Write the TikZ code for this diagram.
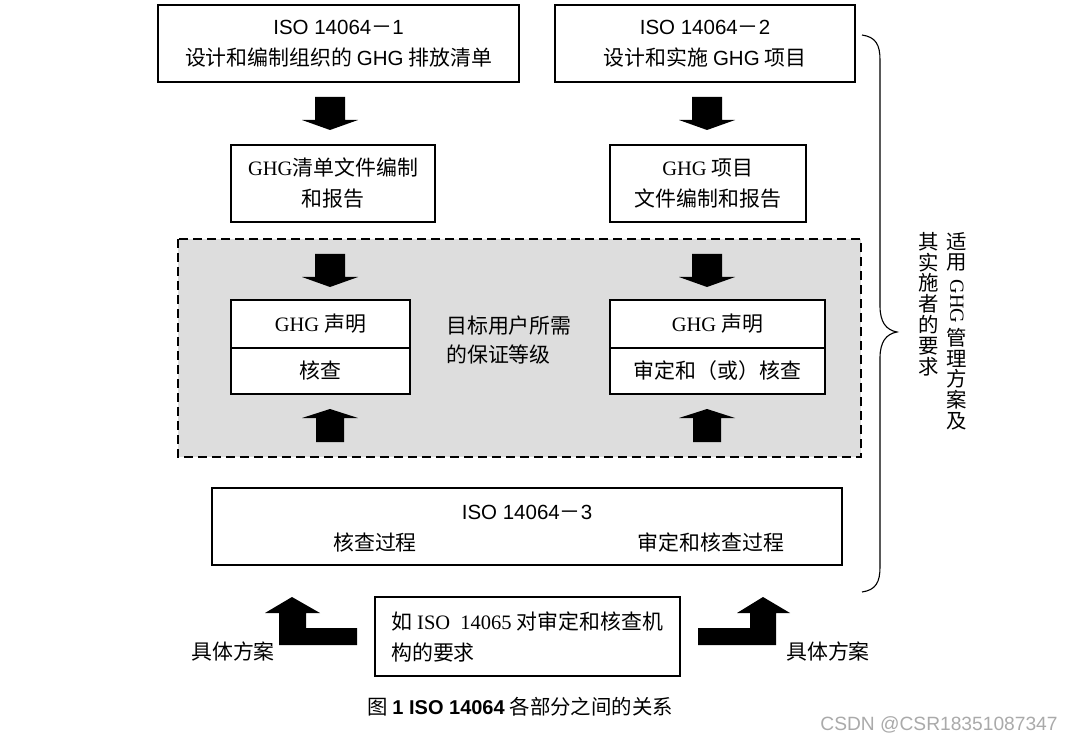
\documentclass[tikz,border=0pt]{standalone}
\usepackage{fontspec}
\usepackage{graphicx}
\setmainfont{Liberation Serif}
\newfontfamily\sans{Liberation Sans}
\newfontfamily\cjk[Scale=1.02]{Noto Sans CJK SC}
\newcommand\zh[1]{{\cjk #1}}
\definecolor{regiongray}{RGB}{221,221,221}
\definecolor{wmgray}{RGB}{170,170,170}
\tikzset{
  box/.style={draw=black, line width=1.2pt, fill=white, inner sep=0pt, align=center,
    font=\fontsize{20.5}{31}\selectfont},
  lbl/.style={inner sep=0pt, font=\fontsize{20.5}{29}\selectfont},
  fatdown/.pic={\fill[black] (-15,0) -- (15,0) -- (15,23) -- (28,23) -- (0,33) -- (-28,23) -- (-15,23) -- cycle;},
  fatup/.pic={\fill[black] (0,0) -- (28,9) -- (14,9) -- (14,33) -- (-14,33) -- (-14,9) -- (-28,9) -- cycle;}
}
\begin{document}
\begin{tikzpicture}[x=1pt,y=-1pt]
\useasboundingbox[fill=white] (0,0) rectangle (1073,743);

% top boxes
\node[box, minimum width=361, minimum height=77] (iso1) at (338.5,43.5)
  {{\sans ISO 14064}\zh{－}{\sans 1}\\\zh{设计和编制组织的 }{\sans GHG}\zh{ 排放清单}};
\node[box, minimum width=300, minimum height=77] (iso2) at (705,43.5)
  {{\sans ISO 14064}\zh{－}{\sans 2}\\\zh{设计和实施 }{\sans GHG}\zh{ 项目}};

\pic at (330,97) {fatdown};
\pic at (707,97) {fatdown};

% documentation boxes
\node[box, minimum width=204, minimum height=77] (doc1) at (333,183.5)
  {GHG\zh{清单文件编制}\\\zh{和报告}};
\node[box, minimum width=196, minimum height=77] (doc2) at (708,183.5)
  {GHG \zh{项目}\\\zh{文件编制和报告}};

% shaded region
\draw[line width=1.3pt, dash pattern=on 9pt off 5pt, fill=regiongray] (178,239) rectangle (861,457);
\coordinate (region) at (519.5,348);

\pic at (330,254) {fatdown};
\pic at (707,254) {fatdown};

\node[box, minimum width=179, minimum height=48] (st1) at (320.5,324) {GHG \zh{声明}};
\node[box, minimum width=179, minimum height=46] (vf1) at (320.5,371) {\zh{核查}};
\node[box, minimum width=215, minimum height=48] (st2) at (717.5,324) {GHG \zh{声明}};
\node[box, minimum width=215, minimum height=46] (vf2) at (717.5,371) {\zh{审定和（或）核查}};

\node[lbl, anchor=west, align=left] (assur) at (446,340.5) {\zh{目标用户所需}\\\zh{的保证等级}};

\pic at (330,409) {fatup};
\pic at (707,409) {fatup};

% ISO 14064-3
\node[box, minimum width=630, minimum height=77] (iso3) at (527,526.5) {};
\node[lbl] (iso3t) at (527,512) {{\sans ISO 14064}\zh{－}{\sans 3}};
\node[lbl] (vp) at (375,543) {\zh{核查过程}};
\node[lbl] (vvp) at (711,543) {\zh{审定和核查过程}};

% ISO 14065 box
\node[box, minimum width=305, minimum height=79] (iso65) at (527.5,636.5) {};
\node[lbl, anchor=west, align=left, font=\fontsize{20.5}{31}\selectfont] (iso65t) at (391,636.5)
  {\zh{如} ISO\ \ 14065 \zh{对审定和核查机}\\\zh{构的要求}};

% bent arrows
\fill[black] (357,628) -- (306,628) -- (306,613) -- (320,613) -- (292,597) -- (265,613) -- (279,613) -- (279,645) -- (357,645) -- cycle;
\fill[black] (698,628) -- (750,628) -- (750,613) -- (737,613) -- (763,597) -- (790,613) -- (776,613) -- (776,645) -- (698,645) -- cycle;
\node[lbl] (sp1) at (233,652) {\zh{具体方案}};
\node[lbl] (sp2) at (828,652) {\zh{具体方案}};

% brace
\draw[line width=1.1pt] (862,35) .. controls (876,37) and (880,45) .. (880,60) -- (880,306)
  .. controls (880,322) and (886,330) .. (897,332)
  .. controls (886,334) and (880,342) .. (880,358) -- (880,567)
  .. controls (880,582) and (876,590) .. (862,592);

% vertical text
\node[inner sep=0pt, align=center, anchor=north, font=\fontsize{20}{20.8}\selectfont] (vr) at (957,232)
  {\zh{适}\\\zh{用}\\[-11pt]\rotatebox{-90}{GHG}\\[4pt]\zh{管}\\\zh{理}\\\zh{方}\\\zh{案}\\\zh{及}};
\node[inner sep=0pt, align=center, anchor=north, font=\fontsize{20}{20.8}\selectfont] (vl) at (929,232)
  {\zh{其}\\\zh{实}\\\zh{施}\\\zh{者}\\\zh{的}\\\zh{要}\\\zh{求}};

% caption
\node[inner sep=0pt, font=\fontsize{20}{24}\selectfont] (cap) at (520,707)
  {\zh{图} {\sans\bfseries 1 ISO 14064} \zh{各部分之间的关系}};
\node[inner sep=0pt, text=wmgray, font=\sans\fontsize{19.2}{22}\selectfont] (wm) at (939,725) {CSDN @CSR18351087347};
\end{tikzpicture}
\end{document}
